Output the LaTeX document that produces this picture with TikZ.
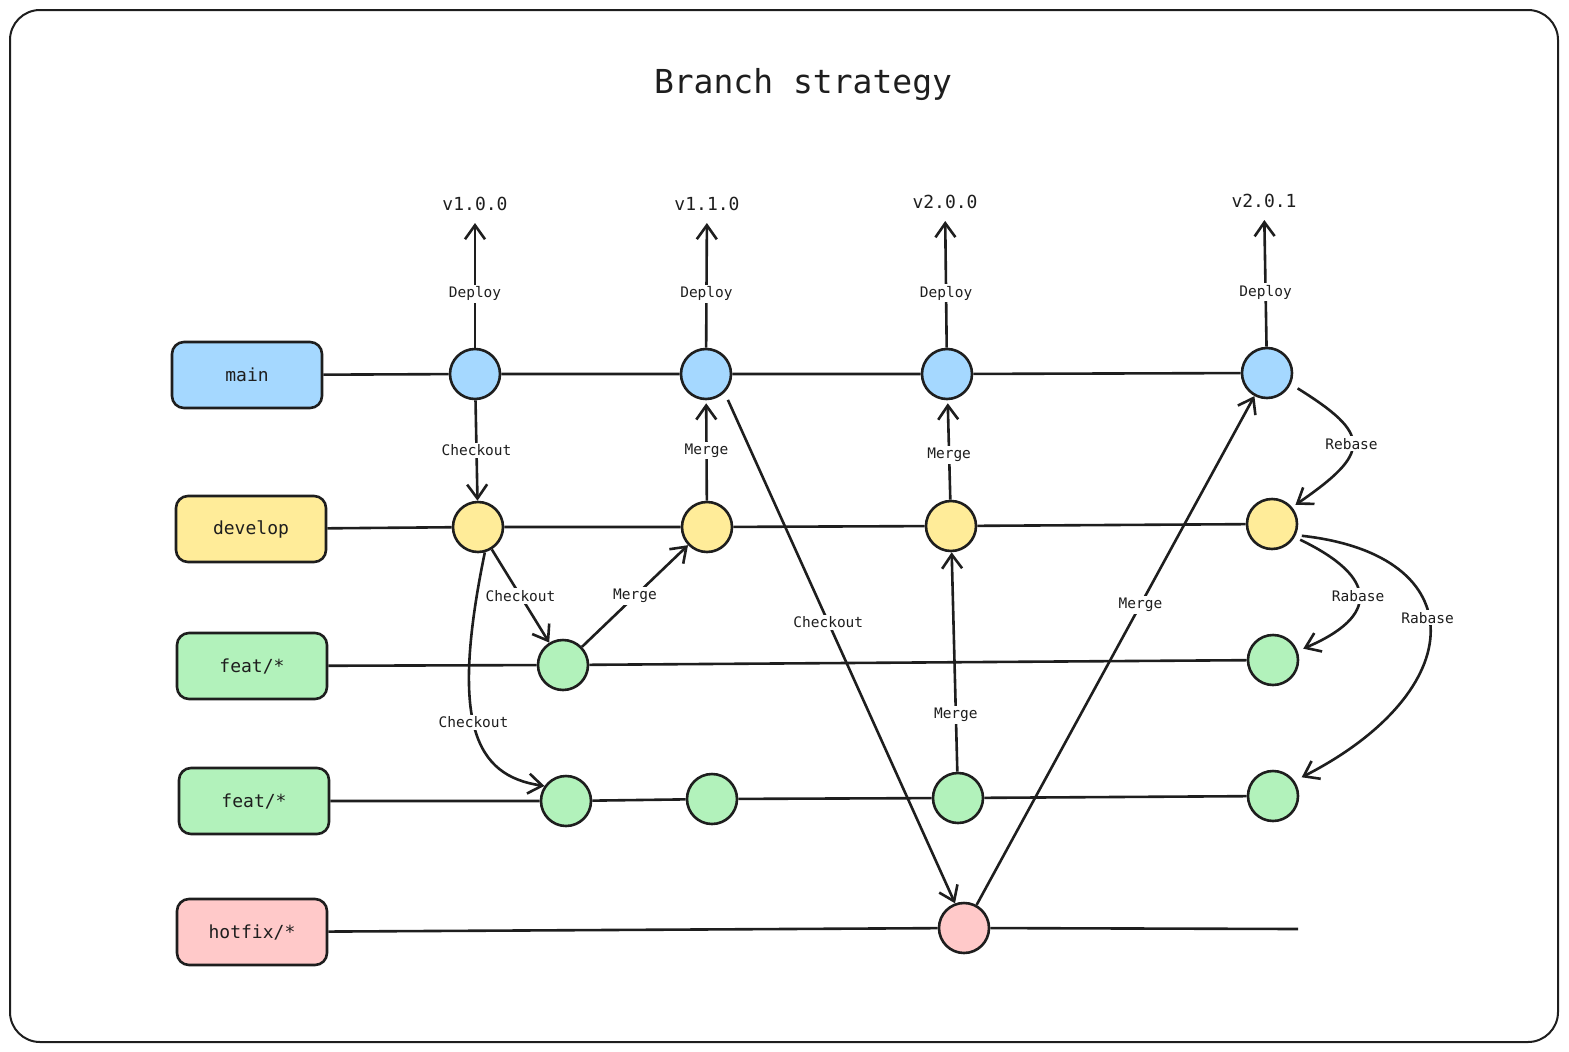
\documentclass[tikz,border=0pt]{standalone}
\usepackage{fontspec}
\setmonofont{DejaVu Sans Mono}
\usetikzlibrary{arrows.meta, positioning}
\definecolor{CInk}{HTML}{1E1E1E}
\definecolor{CMain}{HTML}{A5D8FF}
\definecolor{CDevelop}{HTML}{FFEC99}
\definecolor{CFeat}{HTML}{B2F2BB}
\definecolor{CHotfix}{HTML}{FFC9C9}

\begin{document}
\begin{tikzpicture}[
    x=1pt, y=-1pt,
    branch/.style={rectangle, rounded corners=12pt, draw=CInk, fill=#1, line width=2.6pt, minimum width=150pt, minimum height=66pt, align=center, text=CInk, font=\ttfamily\fontsize{18}{20}\selectfont},
    commit/.style={circle, draw=CInk, fill=#1, line width=2.6pt, minimum size=50pt, inner sep=0pt},
    version/.style={inner sep=2pt, text=CInk, font=\ttfamily\fontsize{18}{20}\selectfont},
    lbl/.style={fill=white, inner sep=2pt, text=CInk, font=\ttfamily\fontsize{14.5}{16}\selectfont},
    track/.style={line width=2.6pt, CInk},
    arrow/.style={-{Straight Barb[length=14pt, width=20pt]}, line width=2.6pt, CInk},
]
\useasboundingbox (0,0) rectangle (1569,1052);
\draw[line width=2pt, CInk, rounded corners=30pt] (10,10) rectangle (1558,1042);

\node[text=CInk, font=\ttfamily\fontsize{33}{36}\selectfont] (title) at (803,85) {Branch strategy};

% Branches
\node[branch=CMain] (main) at (247,375) {main};
\node[branch=CDevelop] (develop) at (251,529) {develop};
\node[branch=CFeat] (featA) at (252,666) {feat/*};
\node[branch=CFeat] (featB) at (254,801) {feat/*};
\node[branch=CHotfix] (hotfix) at (252,932) {hotfix/*};

% Commits
\node[commit=CMain] (m1) at (475,374) {};
\node[commit=CMain] (m2) at (706,374) {};
\node[commit=CMain] (m3) at (947,374) {};
\node[commit=CMain] (m4) at (1267,373) {};
\node[commit=CDevelop] (d1) at (478,527) {};
\node[commit=CDevelop] (d2) at (707,527) {};
\node[commit=CDevelop] (d3) at (951,526) {};
\node[commit=CDevelop] (d4) at (1272,524) {};
\node[commit=CFeat] (a1) at (563,665) {};
\node[commit=CFeat] (a2) at (1273,660) {};
\node[commit=CFeat] (b1) at (566,801) {};
\node[commit=CFeat] (b2) at (712,799) {};
\node[commit=CFeat] (b3) at (958,798) {};
\node[commit=CFeat] (b4) at (1273,796) {};
\node[commit=CHotfix] (h1) at (964,928) {};
\coordinate (hotend) at (1298,929);

% Releases
\node[version] (v100) at (475,204) {v1.0.0};
\node[version] (v110) at (707,204) {v1.1.0};
\node[version] (v200) at (945,202) {v2.0.0};
\node[version] (v201) at (1264,201) {v2.0.1};

% Tracks
\draw[track] (main) -- (m1) -- (m2) -- (m3) -- (m4);
\draw[track] (develop) -- (d1) -- (d2) -- (d3) -- (d4);
\draw[track] (featA) -- (a1) -- (a2);
\draw[track] (featB) -- (b1) -- (b2) -- (b3) -- (b4);
\draw[track] (hotfix) -- (h1) -- (hotend);

% Deploys
\draw[arrow, shorten >=10pt] (m1) -- node[lbl, pos=0.4]{Deploy} (v100);
\draw[arrow, shorten >=10pt] (m2) -- node[lbl, pos=0.4]{Deploy} (v110);
\draw[arrow, shorten >=10pt] (m3) -- node[lbl, pos=0.4]{Deploy} (v200);
\draw[arrow, shorten >=10pt] (m4) -- node[lbl, pos=0.4]{Deploy} (v201);

% Checkouts and merges
\draw[arrow] (m1) -- node[lbl]{Checkout} (d1);
\draw[arrow, shorten >=3pt] (d2) -- node[lbl]{Merge} (m2);
\draw[arrow, shorten >=3pt] (d3) -- node[lbl, pos=0.45]{Merge} (m3);
\draw[arrow] (d1) -- node[lbl]{Checkout} (a1);
\draw[arrow] (a1) -- node[lbl]{Merge} (d2);
\draw[arrow] (d1.-75) .. controls +(-35,170) and +(-70,-10) .. node[lbl, pos=0.47]{Checkout} (b1.145);
\draw[arrow, shorten <=8pt] (m2.-45) -- node[lbl, pos=0.45]{Checkout} (h1.110);
\draw[arrow] (b3) -- node[lbl, pos=0.26]{Merge} (d3);
\draw[arrow] (h1) -- node[lbl, pos=0.59]{Merge} (m4);

% Rebases
\draw[arrow, shorten <=8pt, shorten >=4pt] (m4.-25) .. controls +(80,50) and +(80,-55) .. node[lbl]{Rebase} (d4.40);
\draw[arrow, shorten <=6pt, shorten >=6pt] (d4.-30) .. controls +(83,40) and +(82,-35) .. node[lbl]{Rabase} (a2.20);
\draw[arrow, shorten <=6pt, shorten >=8pt] (d4.-25) .. controls +(180,20) and +(176,-90) .. node[lbl, pos=0.45]{Rabase} (b4.35);

\end{tikzpicture}
\end{document}
